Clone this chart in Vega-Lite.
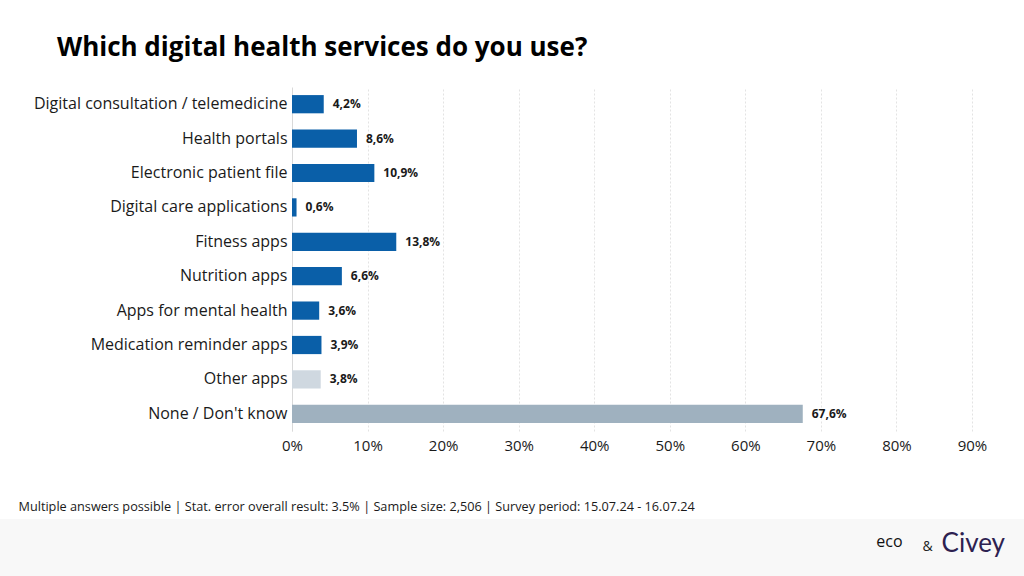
{
  "$schema": "https://vega.github.io/schema/vega-lite/v6.json",
  "padding": {"left": 0, "right": 0, "top": 35, "bottom": 0},
  "background": "white",
  "spacing": 0,
  "bounds": "full",
  "config": {"view": {"stroke": null}, "font": "Open Sans"},
  "title": {
    "text": "Which digital health services do you use?",
    "anchor": "start",
    "dx": 57,
    "fontSize": 26,
    "fontWeight": "bold",
    "font": "Open Sans",
    "color": "#000000",
    "offset": 26
  },
  "vconcat": [
    {
      "width": 1024,
      "height": 344,
      "data": {
        "values": [
          {"item": "Digital consultation / telemedicine", "value": 4.2},
          {"item": "Health portals", "value": 8.6},
          {"item": "Electronic patient file", "value": 10.9},
          {"item": "Digital care applications", "value": 0.6},
          {"item": "Fitness apps", "value": 13.8},
          {"item": "Nutrition apps", "value": 6.6},
          {"item": "Apps for mental health", "value": 3.6},
          {"item": "Medication reminder apps", "value": 3.9},
          {"item": "Other apps", "value": 3.8},
          {"item": "None / Don't know", "value": 67.6}
        ]
      },
      "transform": [
        {"calculate": "replace(format(datum.value, '.1f'), '.', ',') + '%'", "as": "label"}
      ],
      "encoding": {
        "y": {
          "field": "item",
          "type": "nominal",
          "sort": null,
          "scale": {"paddingInner": 0.47, "paddingOuter": 0.235},
          "axis": {
            "title": null,
            "offset": -292,
            "labelFontSize": 16,
            "labelColor": "#1a1a1a",
            "labelPadding": 5,
            "labelLimit": 400,
            "ticks": false,
            "domainColor": "#d9d9d9"
          }
        },
        "x": {
          "field": "value",
          "type": "quantitative",
          "scale": {"domain": [-38.647, 96.882], "nice": false, "zero": false},
          "axis": {
            "values": [0, 10, 20, 30, 40, 50, 60, 70, 80, 90],
            "labelExpr": "datum.value + '%'",
            "labelFlush": false,
            "labelFontSize": 15,
            "labelColor": "#1a1a1a",
            "labelPadding": 7,
            "ticks": false,
            "domain": false,
            "gridColor": "#e3e3e3",
            "gridDash": [2, 2],
            "title": "Multiple answers possible | Stat. error overall result: 3.5% | Sample size: 2,506 | Survey period: 15.07.24 - 16.07.24",
            "titleX": 18,
            "titleY": 75,
            "titleAlign": "left",
            "titleAnchor": "start",
            "titleBaseline": "middle",
            "titleFontSize": 12.7,
            "titleFontWeight": "normal",
            "titleColor": "#1a1a1a"
          }
        }
      },
      "layer": [
        {
          "mark": {"type": "bar"},
          "encoding": {
            "x2": {"datum": 0},
            "color": {
              "condition": [
                {"test": "datum.item === 'Other apps'", "value": "#cfd8e0"},
                {"test": "datum.item === \"None / Don't know\"", "value": "#9fb1bf"}
              ],
              "value": "#0a5fa8"
            }
          }
        },
        {
          "mark": {"type": "text", "align": "left", "dx": 9, "fontWeight": "bold", "fontSize": 12, "color": "#1a1a1a"},
          "encoding": {"text": {"field": "label"}}
        }
      ]
    },
    {
      "width": 1024,
      "height": 57,
      "view": {"fill": "#f8f8f8", "stroke": null},
      "data": {"values": [{}]},
      "mark": "text",
      "encoding": {
        "text": {"value": ""},
        "x": {
          "datum": 0,
          "type": "quantitative",
          "axis": {
            "labels": false, "ticks": false, "domain": false, "grid": false,
            "title": "eco",
            "titleX": 889,
            "titleY": -35,
            "titleAlign": "center",
            "titleAnchor": null,
            "titleBaseline": "middle",
            "titleFont": "Open Sans",
            "titleFontSize": 16,
            "titleFontWeight": "normal",
            "titleColor": "#111111"
          }
        },
        "y": {
          "datum": 0,
          "type": "quantitative",
          "axis": {
            "labels": false, "ticks": false, "domain": false, "grid": false,
            "title": "&",
            "titleAngle": 0,
            "titleX": 927,
            "titleY": 27,
            "titleAlign": "center",
            "titleAnchor": null,
            "titleBaseline": "middle",
            "titleFont": "Open Sans",
            "titleFontSize": 14,
            "titleFontWeight": "normal",
            "titleColor": "#222222"
          }
        }
      },
      "title": {
        "text": "Civey",
        "orient": "bottom",
        "anchor": "end",
        "offset": -45,
        "dx": -19,
        "fontSize": 26,
        "font": "Lato",
        "fontWeight": "normal",
        "color": "#2d2150"
      }
    }
  ]
}
